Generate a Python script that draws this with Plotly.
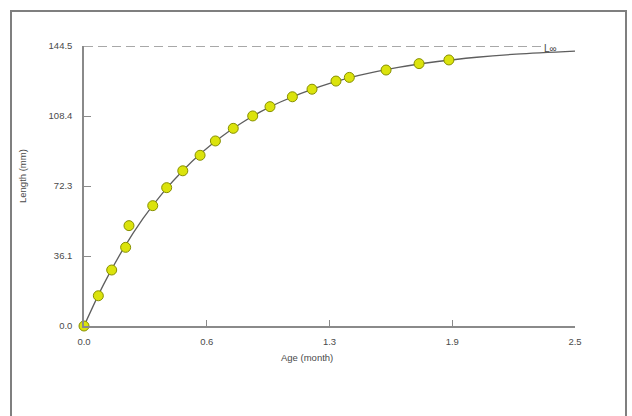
import plotly.graph_objects as go

# Observed data (age in months, length in mm)
obs_age = [0.0, 0.073, 0.141, 0.212, 0.229, 0.350, 0.421, 0.503, 0.591, 0.669,
           0.760, 0.859, 0.947, 1.061, 1.161, 1.283, 1.351, 1.538, 1.706, 1.858]
obs_len = [0.0, 15.6, 28.9, 40.6, 51.8, 62.1, 71.4, 80.1, 88.1, 95.5,
           102.0, 108.4, 113.2, 118.3, 122.2, 126.4, 128.3, 132.1, 135.4, 137.3]

# Fitted growth curve
curve_age = [0.0, 0.1, 0.2, 0.3, 0.4, 0.5, 0.6, 0.7, 0.8, 0.9, 1.0, 1.2, 1.4,
             1.6, 1.8, 2.0, 2.2, 2.5]
curve_len = [0.0, 21.5, 39.8, 55.4, 68.6, 79.9, 89.5, 97.7, 104.6, 110.6, 115.6,
             123.5, 129.3, 133.5, 136.5, 138.7, 140.3, 141.9]

# Asymptotic length line
linf_age = [0.0, 2.33]
linf_len = [144.5, 144.5]
linf_label = "L∞"

x_tickvals = [0.0, 0.625, 1.25, 1.875, 2.5]
x_ticktext = ["0.0", "0.6", "1.3", "1.9", "2.5"]
y_tickvals = [0.0, 36.125, 72.25, 108.375, 144.5]
y_ticktext = ["0.0", "36.1", "72.3", "108.4", "144.5"]

FONT = "Liberation Sans, Arial, sans-serif"
AX = "#8a8a8a"
TXT = "#4a4a4a"

fig = go.Figure()
fig.add_trace(go.Scatter(x=linf_age, y=linf_len, mode="lines",
                         line=dict(color="#8c8c8c", width=1.4, dash="9px,5px"),
                         hoverinfo="skip", showlegend=False))
fig.add_trace(go.Scatter(x=curve_age, y=curve_len, mode="lines", line_shape="spline",
                         line=dict(color="#5e5e5e", width=1.3), showlegend=False))
fig.add_trace(go.Scatter(x=obs_age, y=obs_len, mode="markers",
                         marker=dict(size=10, color="#dbe30c",
                                     line=dict(color="#879000", width=1)),
                         showlegend=False, cliponaxis=False))

fig.add_annotation(x=2.33, y=144.5, xref="x", yref="y", text=linf_label,
                   showarrow=False, xanchor="left", yanchor="middle", yshift=-2,
                   font=dict(family=FONT, size=10, color=TXT))
fig.add_annotation(x=(307 - 84) / 491, y=(326 - 357) / 280, xref="paper", yref="paper",
                   text="Age (month)", showarrow=False, xanchor="center", yanchor="middle",
                   font=dict(family=FONT, size=9.5, color=TXT))
fig.add_annotation(x=(22 - 84) / 491, y=(326 - 176) / 280, xref="paper", yref="paper",
                   text="Length (mm)", showarrow=False, textangle=-90,
                   xanchor="center", yanchor="middle",
                   font=dict(family=FONT, size=9.5, color=TXT))

# outer frame
fig.add_shape(type="rect", xref="paper", yref="paper",
              x0=(11 - 84) / 491, x1=(626 - 84) / 491,
              y0=(326 - 430) / 280, y1=(326 - 11) / 280,
              line=dict(color="#7f7f7f", width=2), fillcolor="rgba(0,0,0,0)", layer="below")

fig.update_xaxes(range=[0, 2.5], tickvals=x_tickvals, ticktext=x_ticktext,
                 showgrid=False, zeroline=False, showline=True, linecolor=AX, linewidth=1.5,
                 ticks="inside", ticklen=6, tickcolor=AX, tickwidth=1,
                 ticklabelstandoff=6,
                 tickfont=dict(family=FONT, size=9.5, color=TXT))
fig.update_yaxes(range=[0, 144.5], tickvals=y_tickvals, ticktext=y_ticktext,
                 showgrid=False, zeroline=False, showline=True, linecolor=AX, linewidth=1.5,
                 ticks="inside", ticklen=7, tickcolor=AX, tickwidth=1,
                 ticklabelstandoff=8,
                 tickfont=dict(family=FONT, size=9.5, color=TXT))

fig.update_layout(width=632, height=416, autosize=False,
                  margin=dict(l=84, r=57, t=46, b=90),
                  paper_bgcolor="white", plot_bgcolor="white",
                  showlegend=False)

fig.write_html("out.html", config={"displayModeBar": False},
               post_script="document.body.style.margin='0';document.body.style.overflow='hidden';")
